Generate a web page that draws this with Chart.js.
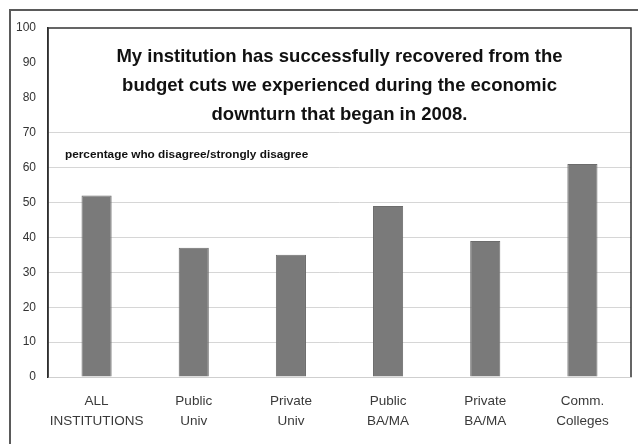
<!DOCTYPE html>
<html>
<head>
<meta charset="utf-8">
<script src="https://cdn.jsdelivr.net/npm/chart.js@4"></script>
<style>
  html, body { margin: 0; padding: 0; background: #fff; }
  #wrap { width: 638px; height: 444px; }
</style>
</head>
<body>
<div id="wrap"><canvas id="chartjs"></canvas></div>
<script>
/*==== data ====*/
const categories = [
    ['ALL', 'INSTITUTIONS'],
    ['Public', 'Univ'],
    ['Private', 'Univ'],
    ['Public', 'BA/MA'],
    ['Private', 'BA/MA'],
    ['Comm.', 'Colleges']
];
const disagreePct = [52, 37, 35, 49, 39, 61];
const titleLines = [
    'My institution has successfully recovered from the',
    'budget cuts we experienced during the economic',
    'downturn that began in 2008.'
];
const noteText = 'percentage who disagree/strongly disagree';

const FONT = "'Liberation Sans Narrow', 'Arial Narrow', 'Liberation Sans', Arial, sans-serif";

/*==== frame, box and in-plot text ====*/
const decorPlugin = {
    id: 'decor',
    beforeDraw(chart) {
        const ctx = chart.ctx;
        ctx.save();
        ctx.fillStyle = '#fff';
        ctx.fillRect(0, 0, chart.width, chart.height);
        // outer frame: top and left edges
        ctx.strokeStyle = '#5a5a5a';
        ctx.lineWidth = 2;
        ctx.beginPath();
        ctx.moveTo(chart.width, 10);
        ctx.lineTo(10, 10);
        ctx.lineTo(10, chart.height);
        ctx.stroke();
        ctx.restore();
    },
    afterDraw(chart) {
        const ctx = chart.ctx;
        const a = chart.chartArea;
        ctx.save();
        // plot box: top, left, right
        ctx.strokeStyle = '#333';
        ctx.lineWidth = 1.5;
        ctx.beginPath();
        ctx.moveTo(a.left, a.bottom);
        ctx.lineTo(a.left, a.top);
        ctx.lineTo(a.right, a.top);
        ctx.lineTo(a.right, a.bottom);
        ctx.stroke();

        const cx = (a.left + a.right) / 2;
        ctx.fillStyle = '#111';
        ctx.textAlign = 'center';
        ctx.textBaseline = 'alphabetic';
        ctx.font = 'bold 18.5px ' + FONT;
        titleLines.forEach((line, i) => ctx.fillText(line, cx, 62 + i * 29));

        ctx.textAlign = 'left';
        ctx.font = 'bold 11.8px ' + FONT;
        ctx.fillText(noteText, 65, 158);
        ctx.restore();
    }
};

/*==== config ====*/
const config = {
    type: 'bar',
    data: {
        labels: categories,
        datasets: [{
            data: disagreePct,
            backgroundColor: '#7a7a7a',
            borderColor: '#6c6c6c',
            borderWidth: 1,
            categoryPercentage: 1,
            barPercentage: 0.31
        }]
    },
    options: {
        responsive: true,
        maintainAspectRatio: false,
        animation: false,
        layout: { padding: { left: 10, top: 28, right: 7, bottom: 0 } },
        plugins: {
            legend: { display: false },
            title: { display: false },
            tooltip: { enabled: false }
        },
        scales: {
            x: {
                grid: { display: false },
                border: { display: true, color: '#cfcfcf', width: 1 },
                ticks: {
                    color: '#3a3a3a',
                    padding: 6,
                    maxRotation: 0,
                    autoSkip: false,
                    font: { family: FONT, size: 13.5, lineHeight: 1.5 }
                },
                afterFit(scale) { scale.height = 67; }
            },
            y: {
                min: 0,
                max: 100,
                ticks: {
                    stepSize: 10,
                    color: '#333',
                    padding: 12,
                    font: { family: FONT, size: 12 }
                },
                grid: {
                    drawTicks: false,
                    color: (c) => {
                        const v = c.tick ? c.tick.value : 0;
                        return (v >= 80) ? 'rgba(0,0,0,0)' : '#d6d6d6';
                    }
                },
                border: { display: true, color: '#222', width: 1.5 },
                afterFit(scale) { scale.width = 38; }
            }
        }
    },
    plugins: [decorPlugin]
};

const chart = new Chart(document.querySelector('#chartjs'), config);
</script>
</body>
</html>
